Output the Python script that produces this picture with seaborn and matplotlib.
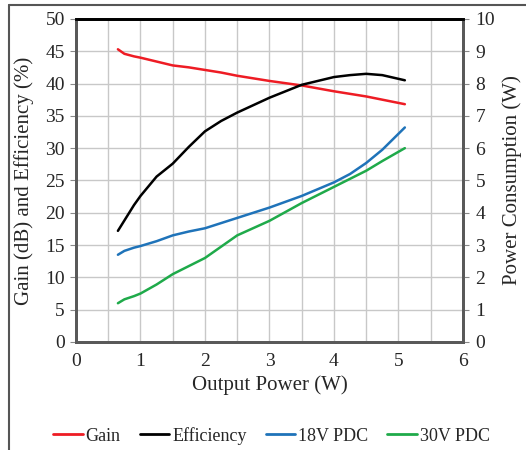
import numpy as np
import pandas as pd
import matplotlib.pyplot as plt
import seaborn as sns
from matplotlib.lines import Line2D

# data
p_out = [0.65, 0.75, 0.9, 1.0, 1.25, 1.5, 1.75, 2.0, 2.25, 2.5, 3.0, 3.5, 4.0, 4.25, 4.5, 4.75, 5.1]
gain = [45.3, 44.6, 44.2, 44.0, 43.4, 42.8, 42.5, 42.1, 41.7, 41.2, 40.4, 39.7, 38.8, 38.4, 38.0, 37.5, 36.8]
efficiency = [17.2, 18.8, 21.2, 22.6, 25.6, 27.6, 30.2, 32.6, 34.2, 35.5, 37.8, 39.8, 41.0, 41.3, 41.5, 41.3, 40.5]
pdc_18v = [2.7, 2.82, 2.92, 2.97, 3.12, 3.3, 3.42, 3.52, 3.68, 3.84, 4.16, 4.52, 4.94, 5.2, 5.54, 5.95, 6.64]
pdc_30v = [1.2, 1.32, 1.42, 1.5, 1.78, 2.1, 2.35, 2.6, 2.95, 3.3, 3.75, 4.3, 4.8, 5.05, 5.3, 5.6, 6.0]

df_left = pd.DataFrame({'P': p_out * 2,
                        'val': gain + efficiency,
                        'series': ['Gain'] * len(p_out) + ['Efficiency'] * len(p_out)})
df_right = pd.DataFrame({'P': p_out * 2,
                         'val': pdc_18v + pdc_30v,
                         'series': ['18V PDC'] * len(p_out) + ['30V PDC'] * len(p_out)})

colors = {'Gain': '#ee1c24', 'Efficiency': '#000000',
          '18V PDC': '#1f73b9', '30V PDC': '#1faa4a'}

FONT = 'Liberation Serif'
sns.set_style('white')
plt.rcParams['font.family'] = FONT

fig = plt.figure(figsize=(5.26, 4.5), dpi=100)
ax = fig.add_axes([0.1445, 0.24, 0.7355, 0.718])
ax2 = ax.twinx()

# grid
for xv in np.arange(0.5, 6, 0.5):
    ax.axvline(xv, color='#c8c8c8', lw=1, zorder=0)
for yv in range(5, 50, 5):
    ax.axhline(yv, color='#c8c8c8', lw=1, zorder=0)

sns.lineplot(data=df_left, x='P', y='val', hue='series', palette=colors,
             ax=ax, legend=False, linewidth=1.8, estimator=None, sort=False)
sns.lineplot(data=df_right, x='P', y='val', hue='series', palette=colors,
             ax=ax2, legend=False, linewidth=1.8, estimator=None, sort=False)

ax.set_xlim(0, 6)
ax.set_ylim(0, 50)
ax2.set_ylim(0, 10)
ax.set_xticks(range(0, 7))
ax.set_xticks(np.arange(0.5, 6, 0.5), minor=True)
ax.set_yticks(range(0, 51, 5))
ax2.set_yticks(range(0, 11))

ax.set_xlabel('Output Power (W)', fontsize=15, labelpad=4, family=FONT)
ax.set_ylabel('Gain (dB) and Efficiency (%)', fontsize=15, labelpad=8, family=FONT)
ax2.set_ylabel('Power Consumption (W)', fontsize=15, labelpad=5, family=FONT)

for a in (ax, ax2):
    for s in a.spines.values():
        s.set_color('#595959')
        s.set_linewidth(2)
    a.spines['top'].set_color('black')
ax.tick_params(axis='both', which='both', direction='out', length=4,
               color='#888888', labelsize=14, pad=4)
ax2.tick_params(axis='y', direction='out', length=4, color='#888888',
                labelsize=14, pad=5)
for lbl in ax.get_xticklabels() + ax.get_yticklabels() + ax2.get_yticklabels():
    lbl.set_fontfamily(FONT)

handles = [Line2D([], [], color=colors[k], lw=2) for k in colors]
fig.legend(handles, list(colors), loc='center', ncol=4, frameon=False,
           bbox_to_anchor=(0.516, 0.032), handlelength=1.65,
           handletextpad=0.15, columnspacing=1.05,
           prop={'family': FONT, 'size': 13})

# frame around the picture
fig.add_artist(Line2D([0.017, 0.017], [0, 0.99], color='#555555', lw=1.5,
                      transform=fig.transFigure))
fig.add_artist(Line2D([0.017, 1.0], [0.99, 0.99], color='#555555', lw=1.5,
                      transform=fig.transFigure))

fig.savefig('out.png', dpi=100)
